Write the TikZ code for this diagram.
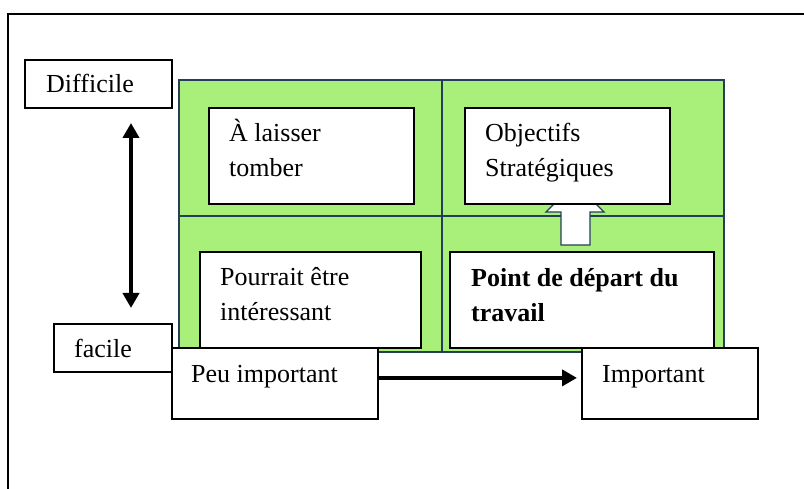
\documentclass[tikz,border=0pt]{standalone}
\usepackage{fontspec}
\setmainfont{Liberation Serif}
\usetikzlibrary{arrows.meta,positioning}
\definecolor{champ}{RGB}{168,240,122}
\definecolor{grille}{RGB}{38,62,92}
\tikzset{
	cadre/.style={draw=black, line width=1.8pt, fill=white, inner sep=0pt, anchor=north west},
	texte/.style={anchor=base west, align=left, inner sep=0pt, font=\fontsize{26}{35}\selectfont},
	fleche/.style={line width=4pt, -{Triangle[length=15pt,width=16pt]}},
}
\begin{document}
\begin{tikzpicture}[x=1pt,y=-1pt]
				\useasboundingbox (0,0) rectangle (804,489);
				\clip (0,0) rectangle (804,489);
				\draw[line width=1.5pt] (8,500) -- (8,14) -- (820,14);
				\draw[grille, line width=1.6pt, fill=champ] (179,80) rectangle (724,352);
				\draw[grille, line width=1.6pt] (442,80) -- (442,352);
				\draw[grille, line width=1.6pt] (179,216) -- (724,216);
				\draw[grille, line width=1.4pt, fill=white] (561,245) -- (561,212) -- (546,212) -- (575,183) -- (604,212) -- (590,212) -- (590,245) -- cycle;
				\node[cadre, minimum width=205pt, minimum height=96pt] (laisser) at (208,107) {};
				\node[texte] (laisser-t) at (229,177) {À laisser\\tomber};
				\node[cadre, minimum width=205pt, minimum height=96pt] (objectifs) at (464,107) {};
				\node[texte] (objectifs-t) at (485,177) {Objectifs\\Stratégiques};
				\node[cadre, minimum width=221pt, minimum height=96pt] (pourrait) at (199,251) {};
				\node[texte] (pourrait-t) at (220,320) {Pourrait être\\intéressant};
				\node[cadre, minimum width=264pt, minimum height=96pt] (depart) at (449,251) {};
				\node[texte, font=\fontsize{26}{35}\selectfont\bfseries] (depart-t) at (471,322) {Point de départ du\\travail};
				\coordinate (haut) at (131,123);
				\coordinate (bas) at (131,308);
				\draw[fleche, {Triangle[length=15pt,width=16pt]}-{Triangle[length=15pt,width=16pt]}] (haut) -- (bas);
				\node[cadre, minimum width=147pt, minimum height=48pt] (difficile) at (24,59) {};
				\node[texte] (difficile-t) at (46,93) {Difficile};
				\node[cadre, minimum width=118pt, minimum height=48pt] (facile) at (53,323) {};
				\node[texte] (facile-t) at (74,358) {facile};
				\node[cadre, minimum width=206pt, minimum height=71pt] (peu) at (171,347) {};
				\node[texte] (peu-t) at (191,382) {Peu important};
				\node[cadre, minimum width=176pt, minimum height=71pt] (important) at (581,347) {};
				\node[texte] (important-t) at (602,382) {Important};
				\draw[fleche, shorten >=4pt] ([yshift=5.5pt]peu.east) -- ([yshift=5.5pt]important.west);
	\end{tikzpicture}
\end{document}
